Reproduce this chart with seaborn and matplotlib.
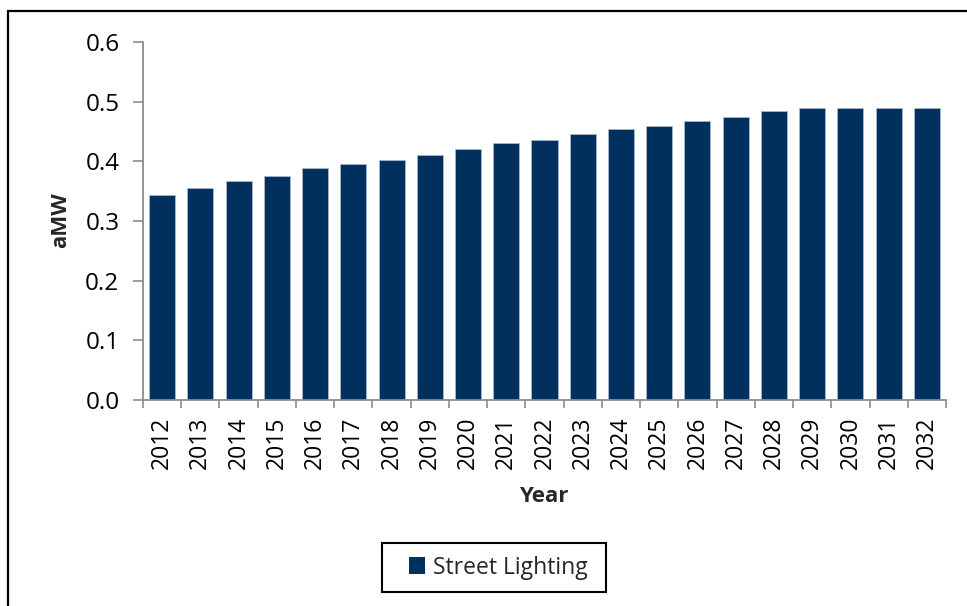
import matplotlib
matplotlib.use("Agg")
import matplotlib.pyplot as plt
from matplotlib.patches import Rectangle
import seaborn as sns
import pandas as pd

years = [str(y) for y in range(2012, 2033)]
street_lighting = [0.343, 0.355, 0.367, 0.375, 0.388, 0.395, 0.403, 0.411, 0.420, 0.430,
                   0.436, 0.445, 0.455, 0.459, 0.467, 0.475, 0.485, 0.490, 0.490, 0.490, 0.490]
y_ticks = [0.0, 0.1, 0.2, 0.3, 0.4, 0.5, 0.6]
series_name = "Street Lighting"

navy = "#00305E"
axis_grey = "#8C8C8C"

sns.set_theme(style="white")
plt.rcParams["font.family"] = ["Open Sans", "DejaVu Sans"]

df = pd.DataFrame({"Year": years, "aMW": street_lighting})

W, H = 967, 606
x0, x1, y0, y1 = 143, 946, 42, 400
fig = plt.figure(figsize=(W / 100, H / 100), dpi=100)
ax = fig.add_axes([x0 / W, 1 - y1 / H, (x1 - x0) / W, (y1 - y0) / H])

sns.barplot(data=df, x="Year", y="aMW", color=navy, width=0.68, saturation=1,
            edgecolor="#A9B8CC", linewidth=0.6, ax=ax)

ax.set_ylim(0, 0.6)
ax.set_xlim(-0.5, len(years) - 0.5)
ax.set_yticks(y_ticks)
ax.set_yticklabels([f"{v:.1f}" for v in y_ticks], fontsize=17.5, color="black")
ax.set_xticks(range(len(years)))
ax.set_xticklabels(years, rotation=90, fontsize=16.5, color="black")

# x ticks sit between categories, like a category axis
ax.tick_params(axis="x", which="major", length=0, pad=12)
ax.set_xticks([i - 0.5 for i in range(len(years) + 1)], minor=True)
ax.tick_params(axis="x", which="minor", length=6, width=1.2, color=axis_grey, direction="out", bottom=True)
ax.tick_params(axis="y", length=7, width=1.2, color=axis_grey, direction="out", left=True, pad=10)

for side in ["top", "right"]:
    ax.spines[side].set_visible(False)
for side in ["left", "bottom"]:
    ax.spines[side].set_color(axis_grey)
    ax.spines[side].set_linewidth(1.3)

ax.set_xlabel("Year", fontsize=16, fontweight="bold", va="center")
ax.set_ylabel("aMW", fontsize=16, fontweight="bold")
ax.xaxis.set_label_coords((544 - x0) / (x1 - x0), -(496 - y1) / (y1 - y0))
ax.yaxis.set_label_coords(-(x0 - 71) / (x1 - x0), (y1 - 220) / (y1 - y0))

# legend entry without its own frame; the box is drawn separately below
handle = Rectangle((0, 0), 1, 1, facecolor=navy, edgecolor="none")
leg = fig.legend([handle], [series_name], loc="center",
                 bbox_to_anchor=(498 / W, 1 - 567.5 / H), frameon=False,
                 fontsize=16.5, handlelength=0.7, handleheight=0.7, handletextpad=0.35,
                 borderpad=0.0, borderaxespad=0)

fig.patches.append(Rectangle((382 / W, 1 - 592 / H), (606 - 382) / W, (592 - 543) / H,
                             transform=fig.transFigure, fill=False,
                             edgecolor="black", linewidth=1.5))

# outer chart border
fig.patches.append(Rectangle((7.5 / W, -0.1), 1.5, 1.1 - 11 / H, transform=fig.transFigure,
                             fill=False, edgecolor="black", linewidth=1.6))

fig.savefig("out.png", dpi=100)
